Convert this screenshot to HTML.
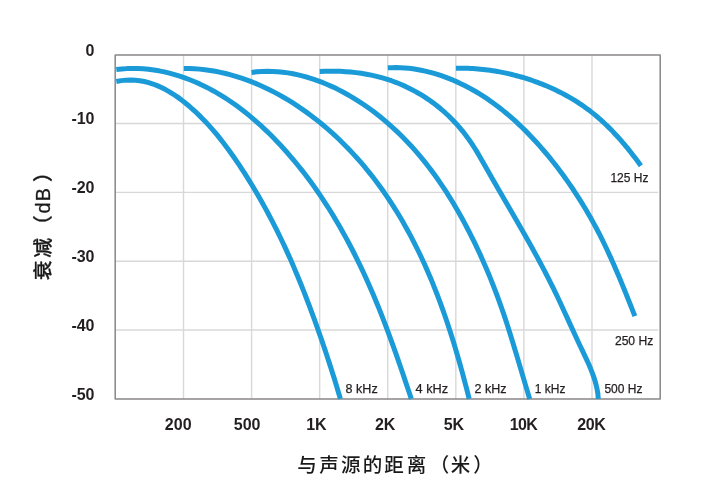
<!DOCTYPE html>
<html lang="zh-CN">
<head>
<meta charset="utf-8">
<title>衰减（dB）</title>
<style>
html,body{margin:0;padding:0;background:#fff;}
body{width:720px;height:496px;overflow:hidden;}
svg{display:block;}
</style>
</head>
<body>
<svg width="720" height="496" viewBox="0 0 720 496">
<rect width="720" height="496" fill="#fff"/>
<g stroke="#d8d8d8" stroke-width="1.4" fill="none"><line x1="183.50" y1="54.9" x2="183.50" y2="398.9"/><line x1="251.58" y1="54.9" x2="251.58" y2="398.9"/><line x1="319.66" y1="54.9" x2="319.66" y2="398.9"/><line x1="387.74" y1="54.9" x2="387.74" y2="398.9"/><line x1="455.82" y1="54.9" x2="455.82" y2="398.9"/><line x1="523.90" y1="54.9" x2="523.90" y2="398.9"/><line x1="591.98" y1="54.9" x2="591.98" y2="398.9"/><line x1="115.2" y1="123.56" x2="658.25" y2="123.56"/><line x1="115.2" y1="192.37" x2="658.25" y2="192.37"/><line x1="115.2" y1="261.18" x2="658.25" y2="261.18"/><line x1="115.2" y1="329.99" x2="658.25" y2="329.99"/></g>
<rect x="115.2" y="54.9" width="545.0" height="344.0" fill="none" stroke="#898787" stroke-width="1.5" stroke-linejoin="round"/>
<g fill="none" stroke="#1b9ad8" stroke-width="5" stroke-linecap="butt" stroke-linejoin="round">
<path d="M116.30,81.50L121.16,80.63L125.94,80.13L130.65,79.99L135.27,80.19L139.82,80.71L144.30,81.53L148.69,82.64L153.01,84.01L157.25,85.64L161.41,87.50L165.49,89.57L169.50,91.84L173.43,94.28L177.28,96.88L181.04,99.63L184.74,102.50L188.35,105.48L191.88,108.54L195.33,111.68L198.71,114.89L202.01,118.17L205.25,121.51L208.41,124.91L211.51,128.37L214.55,131.88L217.52,135.45L220.44,139.06L223.30,142.72L226.11,146.42L228.88,150.16L231.59,153.93L234.26,157.74L236.89,161.57L239.48,165.43L242.03,169.32L244.55,173.22L247.03,177.15L249.49,181.09L251.91,185.05L254.30,189.02L256.66,193.02L258.99,197.03L261.29,201.05L263.56,205.10L265.79,209.16L268.00,213.23L270.18,217.33L272.32,221.44L274.44,225.56L276.53,229.70L278.58,233.86L280.61,238.03L282.61,242.21L284.58,246.41L286.53,250.63L288.44,254.86L290.33,259.10L292.19,263.35L294.03,267.62L295.85,271.90L297.64,276.19L299.40,280.49L301.15,284.79L302.87,289.11L304.57,293.43L306.25,297.76L307.91,302.10L309.55,306.45L311.18,310.80L312.79,315.15L314.38,319.51L315.95,323.87L317.51,328.24L319.06,332.61L320.58,336.99L322.10,341.36L323.59,345.75L325.08,350.14L326.54,354.54L327.99,358.94L329.43,363.35L330.85,367.76L332.26,372.19L333.65,376.62L335.03,381.06L336.40,385.50L337.74,389.96L339.08,394.43L340.40,398.90"/>
<path d="M116.30,69.60L121.69,69.00L127.07,68.62L132.45,68.47L137.81,68.54L143.15,68.81L148.46,69.29L153.76,69.97L159.02,70.84L164.25,71.90L169.44,73.13L174.59,74.54L179.70,76.11L184.76,77.83L189.77,79.72L194.72,81.74L199.62,83.91L204.45,86.21L209.21,88.64L213.91,91.18L218.54,93.85L223.10,96.62L227.59,99.50L232.01,102.49L236.37,105.57L240.67,108.75L244.90,112.02L249.06,115.38L253.16,118.82L257.20,122.33L261.18,125.92L265.09,129.58L268.95,133.31L272.74,137.09L276.47,140.93L280.15,144.83L283.76,148.77L287.32,152.75L290.82,156.78L294.27,160.86L297.66,164.97L300.99,169.13L304.28,173.33L307.50,177.57L310.68,181.84L313.80,186.16L316.87,190.51L319.89,194.89L322.86,199.31L325.78,203.77L328.65,208.26L331.47,212.78L334.25,217.33L336.98,221.91L339.66,226.53L342.30,231.17L344.89,235.84L347.44,240.53L349.95,245.25L352.41,250.00L354.84,254.76L357.22,259.55L359.56,264.36L361.86,269.19L364.13,274.04L366.35,278.91L368.54,283.79L370.69,288.69L372.81,293.61L374.89,298.53L376.94,303.47L378.96,308.42L380.94,313.38L382.89,318.35L384.81,323.33L386.70,328.32L388.57,333.32L390.42,338.32L392.24,343.34L394.04,348.36L395.82,353.39L397.58,358.42L399.33,363.46L401.07,368.51L402.79,373.56L404.51,378.62L406.21,383.68L407.91,388.75L409.61,393.82L411.30,398.90"/>
<path d="M183.75,68.40L189.09,68.48L194.40,68.72L199.68,69.13L204.93,69.71L210.16,70.43L215.35,71.32L220.50,72.35L225.63,73.53L230.71,74.84L235.76,76.30L240.77,77.89L245.74,79.60L250.66,81.44L255.55,83.41L260.39,85.49L265.18,87.68L269.92,89.98L274.62,92.39L279.26,94.89L283.85,97.50L288.39,100.20L292.87,102.98L297.30,105.85L301.67,108.81L305.98,111.84L310.24,114.95L314.44,118.14L318.58,121.41L322.66,124.74L326.68,128.15L330.65,131.63L334.56,135.17L338.40,138.78L342.19,142.46L345.92,146.19L349.59,149.98L353.21,153.84L356.76,157.74L360.25,161.71L363.68,165.72L367.05,169.78L370.36,173.90L373.61,178.05L376.80,182.26L379.93,186.50L383.00,190.79L386.00,195.12L388.95,199.48L391.84,203.88L394.67,208.32L397.44,212.80L400.16,217.31L402.82,221.85L405.43,226.42L407.99,231.03L410.49,235.67L412.94,240.33L415.33,245.02L417.68,249.74L419.98,254.49L422.22,259.25L424.42,264.05L426.58,268.86L428.68,273.70L430.74,278.55L432.75,283.42L434.72,288.32L436.65,293.22L438.53,298.15L440.37,303.09L442.18,308.04L443.94,313.01L445.67,317.99L447.36,322.98L449.01,327.99L450.63,333.01L452.22,338.03L453.78,343.07L455.31,348.11L456.81,353.17L458.28,358.23L459.72,363.29L461.14,368.37L462.54,373.45L463.91,378.53L465.26,383.62L466.59,388.71L467.91,393.80L469.20,398.90"/>
<path d="M251.50,72.40L256.76,71.80L262.01,71.44L267.25,71.30L272.47,71.39L277.66,71.68L282.83,72.18L287.98,72.88L293.09,73.77L298.17,74.84L303.22,76.09L308.22,77.51L313.19,79.08L318.11,80.81L322.99,82.69L327.81,84.70L332.58,86.85L337.30,89.12L341.96,91.50L346.56,94.00L351.10,96.60L355.57,99.30L359.98,102.11L364.33,105.01L368.62,108.01L372.84,111.09L377.00,114.27L381.10,117.53L385.12,120.87L389.08,124.29L392.98,127.79L396.81,131.36L400.56,135.00L404.26,138.70L407.88,142.47L411.43,146.29L414.91,150.18L418.32,154.11L421.67,158.10L424.94,162.15L428.15,166.24L431.30,170.37L434.38,174.56L437.41,178.79L440.37,183.06L443.27,187.37L446.12,191.72L448.91,196.11L451.65,200.53L454.33,204.99L456.97,209.49L459.55,214.01L462.09,218.56L464.58,223.14L467.02,227.75L469.42,232.38L471.78,237.04L474.09,241.71L476.36,246.42L478.58,251.14L480.76,255.88L482.90,260.65L485.00,265.43L487.06,270.23L489.07,275.05L491.04,279.89L492.97,284.74L494.86,289.61L496.72,294.49L498.53,299.39L500.30,304.29L502.03,309.21L503.73,314.15L505.39,319.09L507.01,324.04L508.61,329.00L510.18,333.96L511.72,338.94L513.25,343.92L514.76,348.91L516.26,353.90L517.75,358.89L519.23,363.89L520.71,368.89L522.19,373.89L523.67,378.90L525.16,383.90L526.66,388.90L528.17,393.90L529.70,398.90"/>
<path d="M319.70,71.40L324.86,71.22L330.04,71.15L335.23,71.19L340.42,71.36L345.62,71.65L350.81,72.08L355.98,72.63L361.15,73.33L366.28,74.18L371.39,75.17L376.47,76.32L381.51,77.62L386.50,79.09L391.44,80.73L396.32,82.54L401.14,84.51L405.90,86.64L410.59,88.92L415.19,91.37L419.72,93.96L424.16,96.70L428.51,99.58L432.76,102.60L436.92,105.75L440.96,109.04L444.90,112.46L448.71,116.00L452.41,119.66L455.98,123.44L459.43,127.33L462.75,131.33L465.94,135.43L468.99,139.62L471.92,143.90L474.73,148.26L477.44,152.68L480.09,157.15L482.68,161.65L485.25,166.17L487.81,170.69L490.38,175.21L492.96,179.72L495.55,184.23L498.14,188.73L500.75,193.22L503.36,197.71L505.97,202.21L508.58,206.69L511.19,211.19L513.80,215.68L516.40,220.17L518.99,224.68L521.58,229.18L524.15,233.70L526.71,238.22L529.26,242.75L531.78,247.29L534.30,251.84L536.79,256.40L539.25,260.97L541.70,265.56L544.12,270.16L546.52,274.77L548.88,279.39L551.22,284.03L553.52,288.69L555.79,293.36L558.03,298.04L560.24,302.74L562.43,307.46L564.61,312.18L566.77,316.90L568.92,321.63L571.08,326.36L573.24,331.08L575.41,335.81L577.60,340.52L579.82,345.23L582.05,349.92L584.30,354.62L586.51,359.32L588.65,364.05L590.68,368.83L592.57,373.66L594.29,378.56L595.77,383.54L596.98,388.59L597.84,393.72L598.30,398.90"/>
<path d="M387.80,67.80L392.01,67.63L396.21,67.60L400.41,67.71L404.59,67.95L408.75,68.33L412.90,68.83L417.04,69.46L421.15,70.21L425.24,71.08L429.31,72.06L433.35,73.16L437.37,74.36L441.36,75.67L445.31,77.07L449.24,78.58L453.13,80.17L456.98,81.86L460.79,83.64L464.57,85.50L468.30,87.43L471.99,89.45L475.63,91.54L479.22,93.70L482.77,95.92L486.27,98.21L489.73,100.57L493.13,102.99L496.50,105.46L499.82,108.00L503.09,110.59L506.32,113.24L509.51,115.94L512.66,118.68L515.77,121.48L518.83,124.33L521.86,127.22L524.85,130.15L527.80,133.13L530.71,136.14L533.58,139.20L536.42,142.29L539.22,145.41L541.99,148.56L544.72,151.75L547.42,154.96L550.08,158.20L552.72,161.47L555.31,164.77L557.88,168.09L560.41,171.43L562.90,174.80L565.36,178.20L567.79,181.62L570.19,185.06L572.55,188.53L574.87,192.02L577.16,195.53L579.42,199.06L581.64,202.61L583.83,206.19L585.98,209.78L588.10,213.40L590.19,217.03L592.24,220.69L594.25,224.36L596.23,228.05L598.18,231.76L600.09,235.48L601.96,239.22L603.81,242.98L605.63,246.75L607.41,250.53L609.17,254.33L610.91,258.14L612.62,261.96L614.31,265.79L615.98,269.63L617.62,273.48L619.25,277.34L620.87,281.20L622.47,285.08L624.05,288.95L625.63,292.84L627.19,296.73L628.74,300.62L630.29,304.51L631.83,308.41L633.37,312.30L634.90,316.20"/>
<path d="M455.90,68.25L458.36,68.21L460.83,68.20L463.29,68.23L465.75,68.28L468.20,68.35L470.66,68.46L473.11,68.60L475.56,68.76L478.00,68.95L480.44,69.17L482.88,69.42L485.32,69.69L487.75,70.00L490.17,70.32L492.60,70.68L495.01,71.06L497.43,71.48L499.84,71.91L502.24,72.38L504.64,72.87L507.03,73.38L509.42,73.93L511.81,74.49L514.18,75.09L516.56,75.71L518.92,76.35L521.28,77.02L523.63,77.72L525.98,78.44L528.32,79.19L530.65,79.96L532.98,80.75L535.30,81.57L537.60,82.42L539.90,83.29L542.19,84.18L544.47,85.10L546.74,86.05L549.00,87.02L551.25,88.02L553.49,89.04L555.71,90.09L557.92,91.16L560.12,92.26L562.30,93.38L564.47,94.53L566.63,95.71L568.77,96.91L570.89,98.14L573.00,99.39L575.09,100.67L577.16,101.98L579.22,103.31L581.26,104.67L583.28,106.05L585.28,107.46L587.26,108.90L589.22,110.37L591.16,111.86L593.08,113.37L594.98,114.92L596.86,116.49L598.72,118.08L600.56,119.70L602.38,121.34L604.18,123.00L605.96,124.69L607.72,126.39L609.46,128.12L611.18,129.86L612.89,131.63L614.58,133.41L616.25,135.21L617.91,137.02L619.54,138.85L621.17,140.70L622.77,142.56L624.36,144.43L625.94,146.32L627.50,148.21L629.04,150.12L630.57,152.04L632.09,153.97L633.59,155.91L635.08,157.85L636.55,159.81L638.01,161.76L639.46,163.73L640.90,165.70"/>
</g>
<g font-family="'Liberation Sans', sans-serif" font-weight="bold" font-size="16" fill="#231f20" text-anchor="end">
<text x="94.5" y="55.5">0</text>
<text x="94.5" y="124.3">-10</text>
<text x="94.5" y="193.1">-20</text>
<text x="94.5" y="261.9">-30</text>
<text x="94.5" y="330.7">-40</text>
<text x="94.5" y="399.5">-50</text>
</g>
<g font-family="'Liberation Sans', sans-serif" font-weight="bold" font-size="16" fill="#231f20" text-anchor="middle">
<text x="178.2" y="430.2">200</text>
<text x="247.1" y="430.2">500</text>
<text x="316.4" y="430.2">1K</text>
<text x="385.2" y="430.2">2K</text>
<text x="453.9" y="430.2">5K</text>
<text x="523.5" y="430.2" letter-spacing="-0.6">10K</text>
<text x="591.4" y="430.2" letter-spacing="-0.3">20K</text>
</g>
<g font-family="'Liberation Sans', sans-serif" font-size="12.3" fill="#231f20" stroke="#231f20" stroke-width="0.25">
<text x="610.4" y="182.3" textLength="38.0" lengthAdjust="spacingAndGlyphs">125 Hz</text>
<text x="614.9" y="345.2" textLength="38.4" lengthAdjust="spacingAndGlyphs">250 Hz</text>
<text x="604.4" y="392.7" textLength="38.0" lengthAdjust="spacingAndGlyphs">500 Hz</text>
<text x="534.8" y="392.7" textLength="30.6" lengthAdjust="spacingAndGlyphs">1 kHz</text>
<text x="474.5" y="392.7" textLength="32.0" lengthAdjust="spacingAndGlyphs">2 kHz</text>
<text x="415.6" y="392.7" textLength="32.6" lengthAdjust="spacingAndGlyphs">4 kHz</text>
<text x="345.6" y="392.7" textLength="32.1" lengthAdjust="spacingAndGlyphs">8 kHz</text>
</g>
<text font-family="'Liberation Sans', 'Noto Sans CJK SC', sans-serif" font-size="19.5" font-weight="500" fill="#1a1a1a" x="297.25 319.2 340.9 362.65 384.3 406.8 429.8 450.85 473.2" y="472.2">与声源的距离（米）</text>
<text font-family="'Liberation Sans', 'Noto Sans CJK SC', sans-serif" font-size="19.8" font-weight="500" fill="#1a1a1a" stroke="#1a1a1a" stroke-width="0.3" transform="translate(49.9,280) rotate(-90)" x="-0.2 22.3 45.0 66.6 78.8 97.9" y="0">衰减（dB）</text>
</svg>
</body>
</html>
